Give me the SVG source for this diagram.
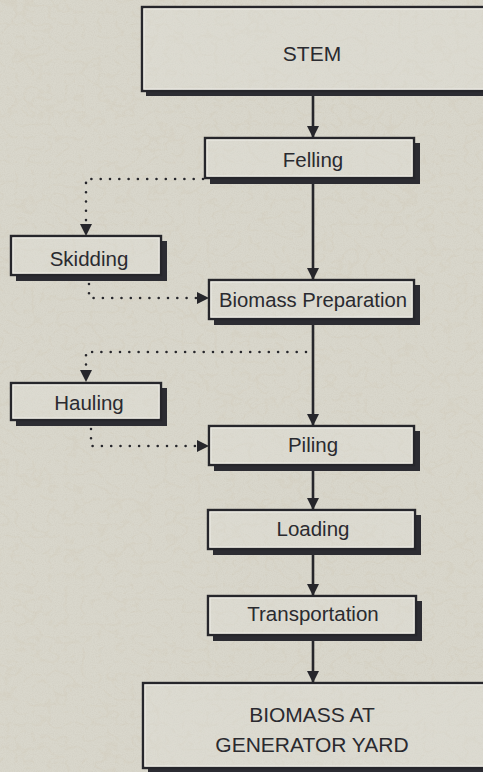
<svg xmlns="http://www.w3.org/2000/svg" width="483" height="772" viewBox="0 0 483 772">
  <defs>
    <!-- speckled paper grain -->
    <filter id="paper" x="0" y="0" width="100%" height="100%">
      <feTurbulence type="fractalNoise" baseFrequency="0.9" numOctaves="3" seed="7" result="n"/>
      <feColorMatrix in="n" type="matrix" values="0 0 0 0 0.55  0 0 0 0 0.52  0 0 0 0 0.45  0 0 0 -1.6 1.05" result="g"/>
      <feComposite in="g" in2="SourceGraphic" operator="in"/>
    </filter>
    <!-- thin curly fibres -->
    <filter id="fibre" x="0" y="0" width="100%" height="100%">
      <feTurbulence type="turbulence" baseFrequency="0.06 0.08" numOctaves="2" seed="3" result="t"/>
      <feColorMatrix in="t" type="matrix" values="0 0 0 0 0.62  0 0 0 0 0.56  0 0 0 0 0.44  0 0 0 -7 1.2" result="f"/>
      <feComposite in="f" in2="SourceGraphic" operator="in"/>
    </filter>
    <marker id="head" viewBox="0 0 12 12" refX="12" refY="6" markerWidth="12" markerHeight="12" markerUnits="userSpaceOnUse" orient="auto">
      <path d="M0,0 L12,6 L0,12 Z" fill="#26262b"/>
    </marker>
  </defs>
  <style>
    .shadow { fill: #2c2c32; }
    .box { fill: #e6e5de; fill-opacity: 0.3; stroke: #26262b; stroke-width: 2.4; }
    .hl { fill: none; stroke: #f2f1ec; stroke-width: 1; opacity: 0.8; }
    .label { font-family: "Liberation Sans", "DejaVu Sans", sans-serif; fill: #2a2a2f; text-anchor: middle; font-size: 20.5px; }
    .big { font-size: 21px; }
    .solid { fill: none; stroke: #26262b; stroke-width: 2.6; }
    .dotted { fill: none; stroke: #26262b; stroke-width: 2.6; stroke-linecap: round; stroke-dasharray: 0 9.3; }
    .tip { stroke: none; fill: none; }
  </style>

  <!-- paper background -->
  <rect x="0" y="0" width="483" height="772" fill="#d9d7cc"/>
  <rect x="0" y="0" width="483" height="772" fill="#d9d7cc" filter="url(#paper)" opacity="0.3"/>
  <rect x="0" y="0" width="483" height="772" fill="#d9d7cc" filter="url(#fibre)" opacity="0.22"/>

  <!-- connectors -->
  <g id="connectors">
    <line class="solid" x1="313" y1="95" x2="313" y2="138" marker-end="url(#head)"/>
    <line class="solid" x1="313" y1="183" x2="313" y2="280" marker-end="url(#head)"/>
    <line class="solid" x1="313" y1="323" x2="313" y2="426" marker-end="url(#head)"/>
    <line class="solid" x1="313" y1="469" x2="313" y2="510" marker-end="url(#head)"/>
    <line class="solid" x1="313" y1="553" x2="313" y2="596" marker-end="url(#head)"/>
    <line class="solid" x1="313" y1="639" x2="313" y2="683" marker-end="url(#head)"/>

    <!-- Felling to Skidding -->
    <path class="dotted" d="M203,179 L86,179 L86,226"/>
    <line class="tip" x1="86" y1="224" x2="86" y2="236" marker-end="url(#head)"/>
    <!-- Skidding to Biomass Preparation -->
    <path class="dotted" d="M89,284 L89,298 L200,298"/>
    <line class="tip" x1="197" y1="298" x2="209" y2="298" marker-end="url(#head)"/>
    <!-- Biomass Preparation to Hauling -->
    <path class="dotted" d="M306,352 L86,352 L86,371"/>
    <line class="tip" x1="86" y1="369" x2="86" y2="382" marker-end="url(#head)"/>
    <!-- Hauling to Piling -->
    <path class="dotted" d="M91,429 L91,446 L200,446"/>
    <line class="tip" x1="197" y1="446" x2="209" y2="446" marker-end="url(#head)"/>
  </g>

  <g id="stem">
    <path class="shadow" d="M146,91 H492 V96 H146 Z"/>
    <rect class="box" x="142" y="7" width="345" height="84"/>
    <rect class="hl" x="144" y="9" width="341" height="80"/>
    <text class="label big" x="312" y="61">STEM</text>
  </g>

  <g id="felling">
    <path class="shadow" d="M414,143 H420 V184 H210 V178 H414 Z"/>
    <rect class="box" x="205" y="138" width="209" height="40"/>
    <rect class="hl" x="207" y="140" width="205" height="36"/>
    <text class="label" x="313" y="167">Felling</text>
  </g>

  <g id="skidding">
    <path class="shadow" d="M161,241 H167 V281 H16 V275 H161 Z"/>
    <rect class="box" x="11" y="236" width="150" height="39"/>
    <rect class="hl" x="13" y="238" width="146" height="35"/>
    <text class="label" x="89" y="266">Skidding</text>
  </g>

  <g id="biomass-preparation">
    <path class="shadow" d="M414,285 H420 V325 H214 V319 H414 Z"/>
    <rect class="box" x="209" y="280" width="205" height="39"/>
    <rect class="hl" x="211" y="282" width="201" height="35"/>
    <text class="label" x="313" y="307" textLength="188" lengthAdjust="spacingAndGlyphs">Biomass Preparation</text>
  </g>

  <g id="hauling">
    <path class="shadow" d="M161,388 H167 V426 H16 V420 H161 Z"/>
    <rect class="box" x="11" y="383" width="150" height="37"/>
    <rect class="hl" x="13" y="385" width="146" height="33"/>
    <text class="label" x="89" y="410">Hauling</text>
  </g>

  <g id="piling">
    <path class="shadow" d="M414,431 H420 V471 H214 V465 H414 Z"/>
    <rect class="box" x="209" y="426" width="205" height="39"/>
    <rect class="hl" x="211" y="428" width="201" height="35"/>
    <text class="label" x="313" y="452">Piling</text>
  </g>

  <g id="loading">
    <path class="shadow" d="M415,515 H421 V555 H213 V549 H415 Z"/>
    <rect class="box" x="208" y="510" width="207" height="39"/>
    <rect class="hl" x="210" y="512" width="203" height="35"/>
    <text class="label" x="313" y="536">Loading</text>
  </g>

  <g id="transportation">
    <path class="shadow" d="M416,601 H422 V641 H213 V635 H416 Z"/>
    <rect class="box" x="208" y="596" width="208" height="39"/>
    <rect class="hl" x="210" y="598" width="204" height="35"/>
    <text class="label" x="313" y="621">Transportation</text>
  </g>

  <g id="biomass-at-generator-yard">
    <path class="shadow" d="M148,768 H492 V778 H148 Z"/>
    <rect class="box" x="143" y="683" width="345" height="85"/>
    <rect class="hl" x="145" y="685" width="341" height="81"/>
    <text class="label big" x="312" y="722">BIOMASS AT</text>
    <text class="label big" x="312" y="752">GENERATOR YARD</text>
  </g>
</svg>
